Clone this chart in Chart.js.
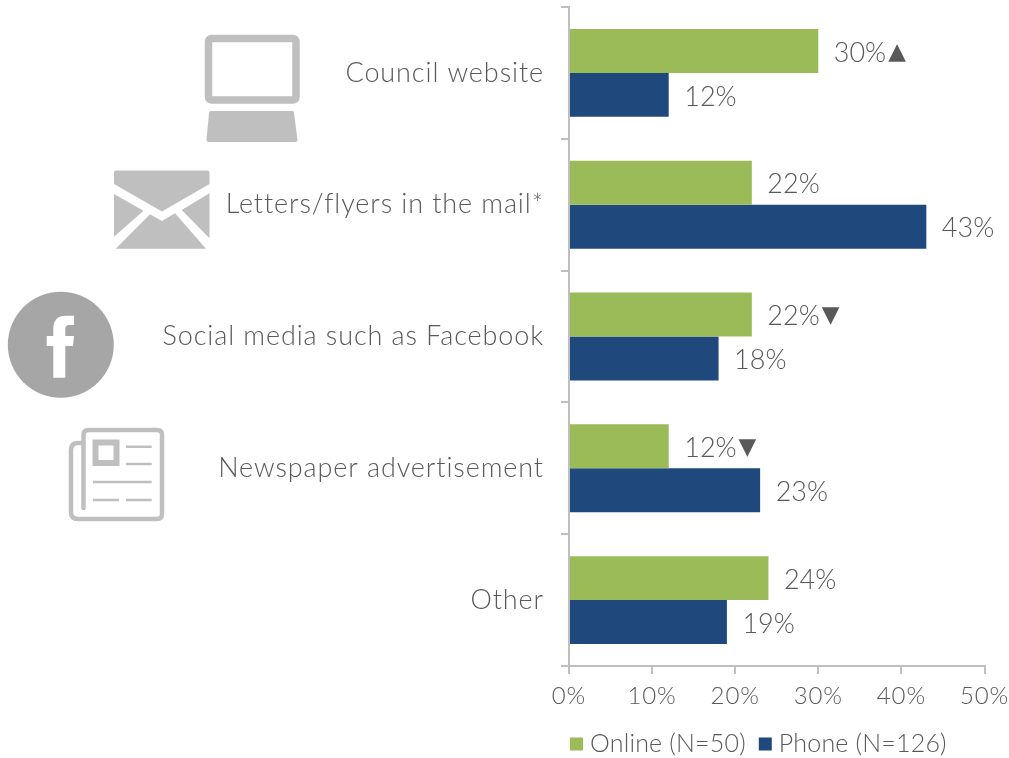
<!DOCTYPE html>
<html>
<head>
<meta charset="utf-8">
<title>Information sources</title>
<script src="https://cdn.jsdelivr.net/npm/chart.js@4/dist/chart.umd.min.js"></script>
<style>
    html, body { margin: 0; padding: 0; background: #fff; }
    #wrap { position: relative; width: 1009px; height: 758px; overflow: hidden; }
    #chart, #icons { position: absolute; left: 0; top: 0; display: block; }
</style>
</head>
<body>
<div id="wrap">
    <canvas id="chart" width="1009" height="758"></canvas>
    <svg id="icons" width="1009" height="758" viewBox="0 0 1009 758">
        <!-- Laptop -->
        <rect x="208.5" y="38.5" width="87.5" height="61.5" rx="3" fill="none" stroke="#bfbfbf" stroke-width="7.5"/>
        <path d="M211 111 H292 Q294 111 294 113 L297.5 140 Q297.5 142 295.5 142 H208.5 Q206.5 142 206.5 140 L209 113 Q209 111 211 111 Z" fill="#bfbfbf"/>
        <!-- Envelope -->
        <path d="M116 170.5 H207.5 Q209.5 170.5 209.5 172.5 V184 L162 211.5 L114 184 V172.5 Q114 170.5 116 170.5 Z" fill="#bfbfbf"/>
        <path d="M114 194 L143.5 210.7 L114 236.7 Z M209.5 193.3 L181.7 210 L209.5 238.3 Z" fill="#bfbfbf"/>
        <path d="M115.7 248.8 L150 214.3 L162 221 L175 213.3 L206 248.8 Z" fill="#bfbfbf"/>
        <!-- Facebook badge -->
        <circle cx="60.8" cy="344.8" r="53" fill="#a6a6a6"/>
        <path d="M53.3 377.7 V346 H46.7 V336 H53.3 V329 Q53.3 315.7 66 315.7 H74 V325 H69 Q65.3 325 65.3 329 V336 H74 L73 346 H65.3 V377.7 Z" fill="#fff"/>
        <!-- Newspaper -->
        <g fill="none" stroke="#bfbfbf" stroke-linecap="round">
            <path d="M83.5 508 V435 Q83.5 430 88.5 430 H157 Q162 430 162 435 V514 Q162 519 157 519 H78 Q71 519 71 512 V450 Q71 443 78 443 H83" stroke-width="4.5"/>
            <rect x="95.5" y="442.5" width="21" height="20.5" stroke-width="6" stroke-linecap="butt"/>
            <path d="M126 446.7 H151.7 M126 464 H151.7 M93 482 H151.7 M93 500 H119 M126 500 H151.7" stroke-width="2.6" stroke-linecap="butt"/>
        </g>
    </svg>
</div>
<script>
const categories = ['Council website', 'Letters/flyers in the mail*', 'Social media such as Facebook', 'Newspaper advertisement', 'Other'];
const onlineValues = [30, 22, 22, 12, 24];
const phoneValues = [12, 43, 18, 23, 19];
const onlineMarkers = ['▲', '', '▼', '▼', ''];
const phoneMarkers = ['', '', '', '', ''];
const xTicks = [0, 10, 20, 30, 40, 50];

const TEXT_COLOR = '#595959';
const AXIS_COLOR = '#bfbfbf';
const FONT = 'Lato, "Open Sans", sans-serif';
const TRACKING = '0.9px';

// Canvas state gets reset when Chart.js sizes the canvas, so tracking goes on here
const trackingPlugin = {
    id: 'tracking',
    beforeUpdate(chart) { chart.ctx.letterSpacing = TRACKING; },
    beforeDraw(chart) { chart.ctx.letterSpacing = TRACKING; }
};

// Percent labels at the bar ends, with the up/down significance markers after them
const valueLabels = {
    id: 'valueLabels',
    afterDatasetsDraw(chart) {
        const ctx = chart.ctx;
        const markers = [onlineMarkers, phoneMarkers];
        chart.data.datasets.forEach((ds, i) => {
            chart.getDatasetMeta(i).data.forEach((bar, j) => {
                const text = ds.data[j] + '%';
                ctx.save();
                ctx.letterSpacing = '0px';
                ctx.font = '300 27px ' + FONT;
                ctx.fillStyle = TEXT_COLOR;
                ctx.textAlign = 'left';
                ctx.textBaseline = 'middle';
                ctx.fillText(text, bar.x + 15.5, bar.y + 2);
                const w = ctx.measureText(text).width;
                if (markers[i][j]) {
                    ctx.font = '23px "DejaVu Sans"';
                    ctx.fillText(markers[i][j], bar.x + 15.5 + w + 2, bar.y + 2);
                }
                ctx.restore();
            });
        });
    }
};

// Legend row under the axis: colour square followed by the series name
const legendRow = {
    id: 'legendRow',
    afterDraw(chart) {
        const ctx = chart.ctx;
        const y = 744;
        let x = chart.chartArea.left + 1;
        ctx.save();
        ctx.letterSpacing = '0.2px';
        ctx.font = '300 25px ' + FONT;
        ctx.textBaseline = 'middle';
        ctx.textAlign = 'left';
        chart.data.datasets.forEach(ds => {
            ctx.fillStyle = ds.backgroundColor;
            ctx.fillRect(x, y - 6.5, 13, 13);
            ctx.fillStyle = TEXT_COLOR;
            ctx.fillText(ds.label, x + 20, y);
            x += 20 + ctx.measureText(ds.label).width + 13;
        });
        ctx.restore();
    }
};

new Chart(document.getElementById('chart'), {
    type: 'bar',
    data: {
        labels: categories,
        datasets: [
            { label: 'Online (N=50)', data: onlineValues, backgroundColor: '#9bbb59', borderWidth: 0, categoryPercentage: 0.667, barPercentage: 1 },
            { label: 'Phone (N=126)', data: phoneValues, backgroundColor: '#1f497d', borderWidth: 0, categoryPercentage: 0.667, barPercentage: 1 }
        ]
    },
    plugins: [trackingPlugin, valueLabels, legendRow],
    options: {
        indexAxis: 'y',
        responsive: false,
        animation: false,
        layout: { padding: { top: 7, right: 24.5, bottom: 0, left: 0 } },
        plugins: {
            tooltip: { enabled: false },
            legend: { display: false }
        },
        scales: {
            x: {
                min: 0,
                max: 50,
                afterBuildTicks(scale) { scale.ticks = xTicks.map(v => ({ value: v })); },
                afterFit(scale) { scale.height = 92; scale.paddingLeft = 0; scale.paddingRight = 0; },
                border: { color: AXIS_COLOR, width: 2 },
                grid: { drawOnChartArea: false, color: AXIS_COLOR, lineWidth: 2, tickLength: 8 },
                ticks: {
                    color: TEXT_COLOR,
                    font: { family: FONT, size: 24, weight: 300 },
                    padding: 8,
                    maxRotation: 0,
                    callback: v => v + '%'
                }
            },
            y: {
                afterFit(scale) { scale.width = 569; scale.paddingTop = 0; scale.paddingBottom = 0; },
                border: { color: AXIS_COLOR, width: 2 },
                grid: { drawOnChartArea: false, offset: true, color: AXIS_COLOR, lineWidth: 2, tickLength: 8 },
                ticks: {
                    color: TEXT_COLOR,
                    font: { family: FONT, size: 27, weight: 300 },
                    padding: 17
                }
            }
        }
    }
});
</script>
</body>
</html>
